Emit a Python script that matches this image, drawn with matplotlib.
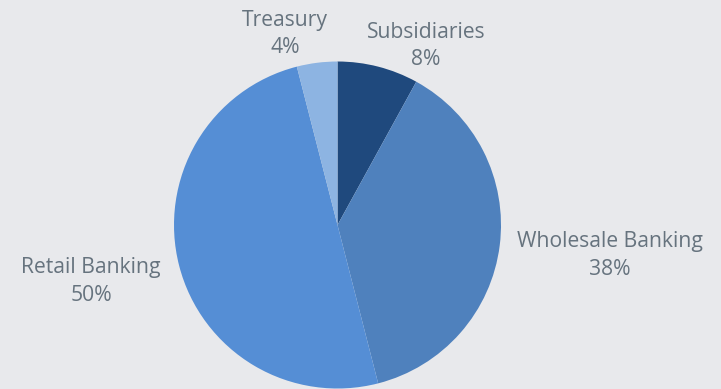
import matplotlib
matplotlib.use("Agg")
import matplotlib.pyplot as plt

# data
segments = ["Subsidiaries", "Wholesale Banking", "Retail Banking", "Treasury"]
shares = [8, 38, 50, 4]
colors = ["#1F497D", "#4F81BD", "#558ED5", "#8DB4E2"]

# label anchor points (pixel coords, y from bottom)
label_xy = [(426, 343), (610, 133.5), (91, 107.5), (285, 355)]

BG = "#E8E9EC"
TXT = "#66737E"

fig = plt.figure(figsize=(7.21, 3.89), dpi=100)
fig.patch.set_facecolor(BG)
ax = fig.add_axes([0, 0, 1, 1])
ax.set_facecolor(BG)

ax.pie(shares, colors=colors, startangle=90, counterclock=False,
       center=(337.5, 164), radius=163.5, frame=True,
       wedgeprops=dict(linewidth=0))
ax.set_xlim(0, 721)
ax.set_ylim(0, 389)
ax.set_aspect("equal")
ax.axis("off")

for name, val, (x, y) in zip(segments, shares, label_xy):
    ax.text(x, y, f"{name}\n{val}%", ha="center", va="center",
            fontsize=15.2, color=TXT, family="Open Sans", linespacing=1.42)

fig.savefig("out.png", dpi=100, facecolor=BG)
